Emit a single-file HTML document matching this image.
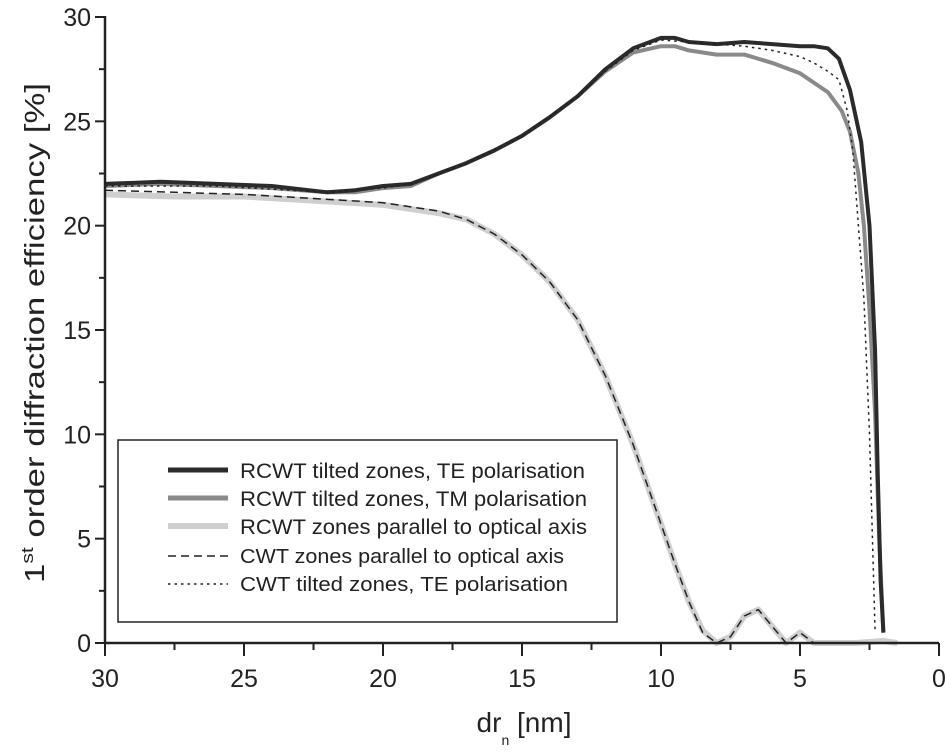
<!DOCTYPE html>
<html><head><meta charset="utf-8"><style>
body{margin:0;background:#fff;}
svg{display:block;font-family:"Liberation Sans",Arial,sans-serif;}
</style></head><body>
<svg id="chart" width="945" height="753" viewBox="0 0 945 753">
<g id="marks"></g>
<g id="axes"></g>
<g id="legend">
<rect x="118" y="440" width="499" height="182" fill="#fff" stroke="#222" stroke-width="1.5"/>
<g><line x1="168" y1="470" x2="228" y2="470" stroke="#2b2b2b" stroke-width="5"/><text x="240" y="478" font-size="21" fill="#222" textLength="345" lengthAdjust="spacingAndGlyphs">RCWT tilted zones, TE polarisation</text></g>
<g><line x1="168" y1="498" x2="228" y2="498" stroke="#8a8a8a" stroke-width="5"/><text x="240" y="506" font-size="21" fill="#222" textLength="347" lengthAdjust="spacingAndGlyphs">RCWT tilted zones, TM polarisation</text></g>
<g><line x1="168" y1="526" x2="228" y2="526" stroke="#cfcfcf" stroke-width="6"/><text x="240" y="534" font-size="21" fill="#222" textLength="347" lengthAdjust="spacingAndGlyphs">RCWT zones parallel to optical axis</text></g>
<g><line x1="168" y1="556" x2="228" y2="556" stroke="#222" stroke-width="1.5" stroke-dasharray="8,5"/><text x="240" y="563" font-size="20" fill="#222" textLength="324" lengthAdjust="spacingAndGlyphs">CWT zones parallel to optical axis</text></g>
<g><line x1="168" y1="584" x2="228" y2="584" stroke="#222" stroke-width="1.5" stroke-dasharray="2.5,4"/><text x="240" y="591" font-size="20" fill="#222" textLength="328" lengthAdjust="spacingAndGlyphs">CWT tilted zones, TE polarisation</text></g>
</g>
<text transform="translate(44,333) rotate(-90)" text-anchor="middle" font-size="28" fill="#222" textLength="500" lengthAdjust="spacingAndGlyphs">1<tspan font-size="17" dy="-11">st</tspan><tspan dy="11"> order diffraction efficiency [%]</tspan></text>
<text x="524" y="732" text-anchor="middle" font-size="28" fill="#222">dr<tspan font-size="14" dy="13">n</tspan><tspan dy="-13"> [nm]</tspan></text>
</svg>
<script>
const teX=[30,28,26,24,22,21,20,19,18,17,16,15,14,13,12,11,10,9.5,9,8,7,6,5,4.5,4,3.6,3.2,2.8,2.5,2.3,2.2,2.1,2.0];
const teY=[22.0,22.1,22.0,21.9,21.6,21.7,21.9,22.0,22.5,23.0,23.6,24.3,25.2,26.2,27.5,28.5,29.0,29.0,28.8,28.7,28.8,28.7,28.6,28.6,28.5,28.0,26.5,24,20,14,8,3,0.5];
const tmX=[30,28,26,24,22,21,20,19,18,17,16,15,14,13,12,11,10,9.5,9,8,7,6,5,4,3.5,3.2,2.9,2.7,2.5,2.3,2.15,2.0];
const tmY=[21.9,22.0,21.9,21.8,21.6,21.6,21.8,21.9,22.5,23.0,23.6,24.3,25.2,26.2,27.4,28.3,28.6,28.6,28.4,28.2,28.2,27.8,27.3,26.4,25.5,24.5,22.5,20,16,11,5,0.5];
const cwtTeX=[30,26,22,20,19,17,15,13,12,11,10,9,8,7,6,5,4.5,4,3.6,3.3,3.1,2.9,2.7,2.5,2.3];
const cwtTeY=[21.9,21.9,21.6,21.8,22.0,23.0,24.3,26.2,27.4,28.4,28.9,28.8,28.7,28.6,28.4,28.1,27.8,27.4,27.0,25.5,23.6,20,16.5,10,0.5];
const parX=[30,27.5,25,22.5,20,18,17,16,15,14,13,12,11,10,9.5,9,8.5,8,7.5,7,6.5,6,5.5,5,4.5,4,3,2,1.5];
const rcwtParY=[21.5,21.4,21.4,21.2,21.0,20.6,20.3,19.6,18.6,17.3,15.5,12.8,9.5,5.7,3.8,2.0,0.6,0.0,0.3,1.3,1.6,0.8,0.0,0.5,0.0,0.0,0.0,0.1,0.0];
const cwtParY=[21.7,21.6,21.5,21.3,21.1,20.7,20.3,19.6,18.6,17.3,15.5,12.8,9.5,5.7,3.8,2.0,0.5,0.0,0.3,1.3,1.6,0.8,0.0,0.5,0.0,0.0,0.0,0.0,0.0];
const xTicks=[30,25,20,15,10,5,0];
const yTicks=[0,5,10,15,20,25,30];
const X0=105,X1=939,Y0=643,Y1=17;
const sx=v=>X0+(30-v)/30*(X1-X0);
const sy=v=>Y0-v/30*(Y0-Y1);
const NS="http://www.w3.org/2000/svg";
const marks=document.getElementById('marks'),axes=document.getElementById('axes');
function mk(tag,attrs,parent){const e=document.createElementNS(NS,tag);for(const k in attrs)e.setAttribute(k,attrs[k]);parent.appendChild(e);return e;}
function line(xs,ys,stroke,w,dash,name){
  const d=xs.map((x,i)=>(i?'L':'M')+sx(x).toFixed(1)+','+sy(ys[i]).toFixed(1)).join('');
  const p=mk('path',{d:d,fill:'none',stroke:stroke,'stroke-width':w,'stroke-linejoin':'round','stroke-dasharray':dash||'none'},marks);
  
  
}
line(parX,rcwtParY,'#cfcfcf',6,null,'series-rcwt-parallel');
line(parX,cwtParY,'#222',1.5,'8,5','series-cwt-parallel');
line(tmX,tmY,'#8a8a8a',4,null,'series-rcwt-tm');
line(teX,teY,'#2b2b2b',4,null,'series-rcwt-te');
line(cwtTeX,cwtTeY,'#222',1.5,'2.5,4','series-cwt-te');
const ya=mk('line',{x1:X0,y1:Y1-1,x2:X0,y2:Y0,stroke:'#222','stroke-width':2.5},axes);


const xa=mk('line',{x1:X0,y1:Y0,x2:X1,y2:Y0,stroke:'#222','stroke-width':2.5},axes);


for(let v=0;v<=30;v+=2.5){
  const maj=v%5===0;
  mk('line',{x1:X0-(maj?10:6),y1:sy(v),x2:X0,y2:sy(v),stroke:'#222','stroke-width':2},axes);
  mk('line',{x1:sx(v),y1:Y0,x2:sx(v),y2:Y0+(maj?13:7),stroke:'#222','stroke-width':2},axes);
}
yTicks.forEach(v=>{const t=mk('text',{x:X0-14,y:sy(v)+9,'text-anchor':'end','font-size':25,fill:'#222'},axes);t.textContent=v;

});
xTicks.forEach(v=>{const t=mk('text',{x:sx(v),y:Y0+44,'text-anchor':'middle','font-size':25,fill:'#222'},axes);t.textContent=v;

});
</script>
</body></html>
